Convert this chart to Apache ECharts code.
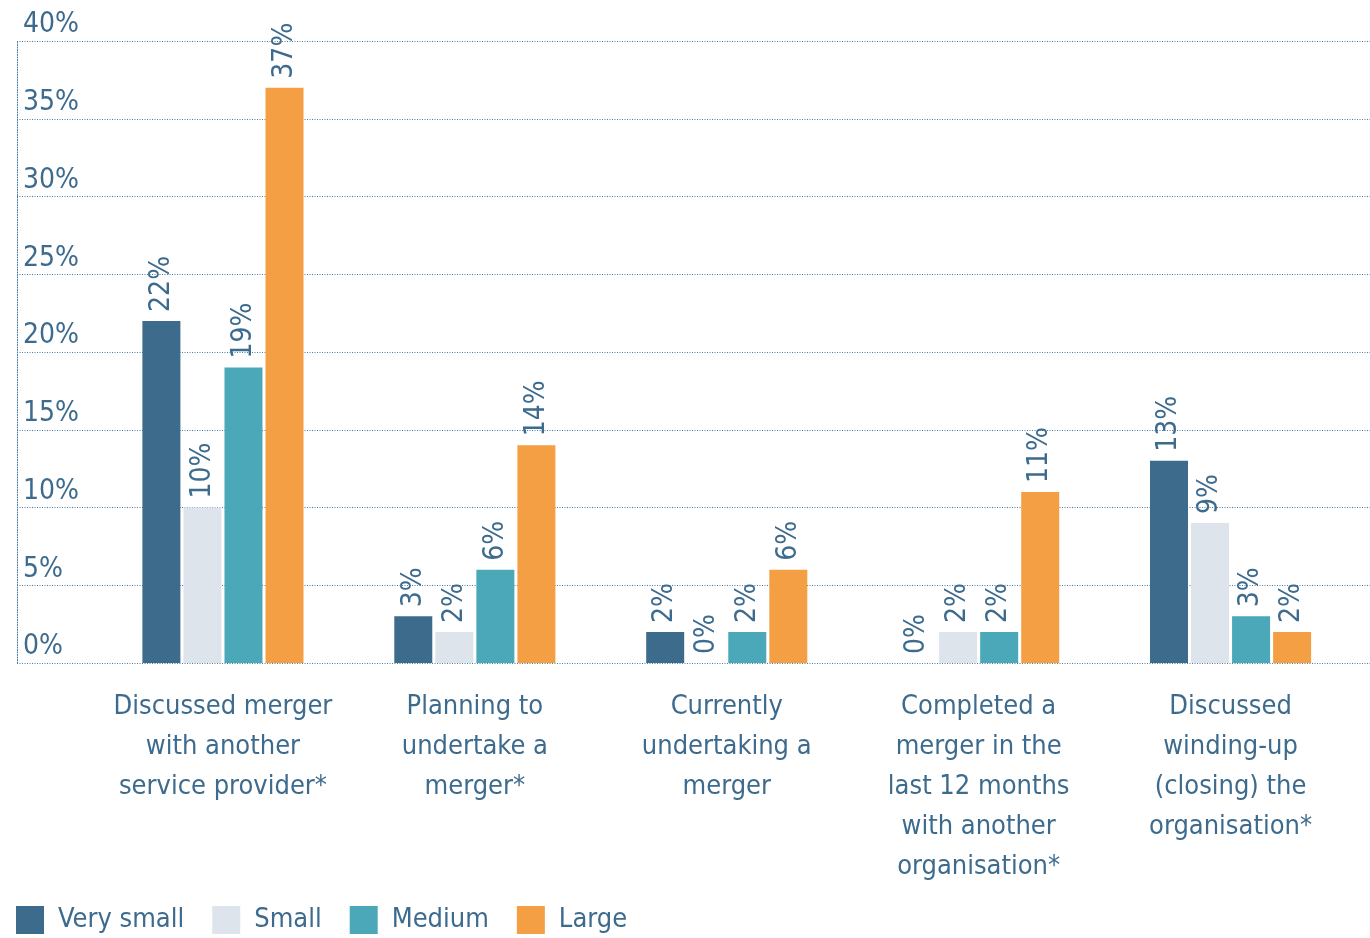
<!DOCTYPE html>
<html>
<head>
<meta charset="utf-8">
<script src="https://cdn.jsdelivr.net/npm/echarts@6/dist/echarts.min.js"></script>
<style>
  html, body { margin: 0; padding: 0; background: #fff; }
  #chart { width: 1370px; height: 938px; }
</style>
</head>
<body>
<div id="chart"></div>
<script>
// categories and values
const categories = [
  "Discussed merger\nwith another\nservice provider*",
  "Planning to\nundertake a\nmerger*",
  "Currently\nundertaking a\nmerger",
  "Completed a\nmerger in the\nlast 12 months\nwith another\norganisation*",
  "Discussed\nwinding-up\n(closing) the\norganisation*"
];
const verySmall = [22, 3, 2, 0, 13];
const small = [10, 2, 0, 2, 9];
const medium = [19, 6, 2, 2, 3];
const large = [37, 14, 6, 11, 2];

const seriesNames = ["Very small", "Small", "Medium", "Large"];
const colors = ["#3d6b8c", "#dde4ec", "#4aa8b8", "#f59f45"];
const textColor = "#3d6b8e";
const font = "'DejaVu Sans Condensed', 'Liberation Sans Narrow', sans-serif";

const chart = echarts.init(document.getElementById("chart"));

function barSeries(name, data, color) {
  return {
    name: name,
    type: "bar",
    xAxisIndex: 1,
    yAxisIndex: 1,
    data: data,
    barWidth: 38,
    barGap: "8%",
    itemStyle: { color: color },
    label: {
      show: true,
      position: "top",
      rotate: 90,
      align: "left",
      verticalAlign: "middle",
      distance: 9,
      formatter: "{c}%",
      color: textColor,
      fontSize: 28,
      fontFamily: font
    }
  };
}

chart.setOption({
  animation: false,
  color: colors,
  textStyle: { fontFamily: font },
  legend: {
    left: 16,
    top: 906,
    padding: 0,
    itemWidth: 28,
    itemHeight: 28,
    itemGap: 28,
    icon: "rect",
    textStyle: { color: textColor, fontSize: 27, fontFamily: font, padding: [6, 0, 0, 9] },
    data: seriesNames
  },
  grid: [
    { left: 17, right: 0, top: 41, bottom: 275 },
    { left: 97, right: 13.5, top: 41, bottom: 275 }
  ],
  xAxis: [
    { gridIndex: 0, type: "value", min: 0, max: 1, show: false },
    {
      gridIndex: 1,
      type: "category",
      data: categories,
      axisLine: { show: false },
      axisTick: { show: false },
      axisLabel: {
        color: textColor,
        fontSize: 27,
        lineHeight: 40,
        margin: 24,
        fontFamily: font,
        interval: 0
      }
    }
  ],
  yAxis: [
    {
      gridIndex: 0,
      type: "value",
      min: 0,
      max: 40,
      interval: 5,
      axisLine: { show: true, lineStyle: { color: "#4a7aa0", type: [1, 1.5], width: 1 } },
      axisTick: { show: false },
      splitLine: { show: true, lineStyle: { color: "#4a7aa0", type: [1, 1.5], width: 1 } },
      axisLabel: {
        inside: true,
        margin: 6,
        align: "left",
        verticalAlign: "bottom",
        padding: [0, 0, 2, 0],
        color: textColor,
        fontSize: 28,
        fontFamily: font,
        formatter: "{value}%"
      }
    },
    { gridIndex: 1, type: "value", min: 0, max: 40, interval: 5, show: false, splitLine: { show: false } }
  ],
  series: [
    barSeries(seriesNames[0], verySmall, colors[0]),
    barSeries(seriesNames[1], small, colors[1]),
    barSeries(seriesNames[2], medium, colors[2]),
    barSeries(seriesNames[3], large, colors[3])
  ]
});
</script>
</body>
</html>
